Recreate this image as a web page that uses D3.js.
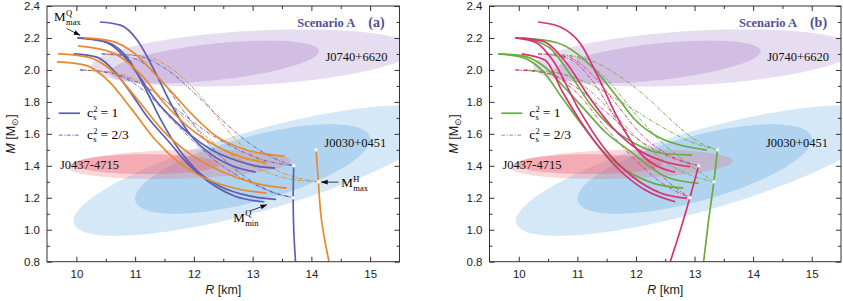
<!DOCTYPE html>
<html>
<head>
<meta charset="utf-8">
<script src="https://cdn.jsdelivr.net/npm/d3@7"></script>
<style>
body { margin: 0; background: #fff; }
svg text { font-family: "Liberation Sans", Arial, sans-serif; }
svg text.serif { font-family: "Liberation Serif", "Times New Roman", serif; }
</style>
</head>
<body>
<svg id="chart" width="843" height="301"></svg>
<script>
// axis ticks
var xTicks = [10, 11, 12, 13, 14, 15];
var xMinor = [10.5, 11.5, 12.5, 13.5, 14.5];
var yTicks = [0.8, 1.0, 1.2, 1.4, 1.6, 1.8, 2.0, 2.2, 2.4];
var yMinor = [0.9, 1.1, 1.3, 1.5, 1.7, 1.9, 2.1, 2.3];

// credible regions: [cx, cy, rx, ry, tilt] (outer, inner)
var regionJ0030 = [[13.1, 1.37, 3.15, 0.26, 0.1], [13.0, 1.38, 2.0, 0.21, 0.0925]];
var regionJ0740 = [[13.0, 2.075, 2.75, 0.17, 0.02], [12.35, 2.05, 1.78, 0.115, 0.038]];
var regionJ0437 = [[11.75, 1.41, 1.9, 0.09, 0.01], [11.2, 1.41, 1.25, 0.062, 0.0]];

// panel (a): quark branches [R, M]
var aBlueSolid = [
  [[10.40,2.30],[10.75,2.28],[11.05,2.18],[11.35,1.98],[11.65,1.76],[11.95,1.59],[12.30,1.47],[12.65,1.40],[13.05,1.36]],
  [[10.02,2.20],[10.45,2.18],[10.80,2.09],[11.05,1.97],[11.35,1.81],[11.65,1.69],[11.95,1.59],[12.30,1.50],[12.75,1.43],[13.05,1.40],[13.38,1.385]],
  [[9.95,2.10],[10.35,2.08],[10.65,1.99],[10.90,1.87],[11.20,1.71],[11.60,1.54],[11.90,1.41],[12.25,1.30],[12.70,1.21],[13.20,1.175]],
  [[10.02,2.20],[10.55,2.17],[10.90,2.06],[11.15,1.90],[11.45,1.68],[11.75,1.50],[12.05,1.37],[12.45,1.27],[12.96,1.21],[13.40,1.19]]
];
var aOrangeSolid = [
  [[10.12,2.20],[10.60,2.18],[11.00,2.10],[11.35,1.97],[11.65,1.85],[12.00,1.71],[12.40,1.58],[12.80,1.51],[13.20,1.475],[13.55,1.46]],
  [[10.03,2.15],[10.60,2.11],[11.10,1.97],[11.50,1.79],[11.95,1.63],[12.40,1.52],[12.85,1.45],[13.24,1.42]],
  [[9.69,2.10],[10.20,2.08],[10.65,1.98],[11.05,1.81],[11.45,1.63],[11.95,1.47],[12.50,1.36],[13.05,1.29],[13.58,1.26]],
  [[9.67,2.05],[10.15,2.03],[10.55,1.93],[10.95,1.75],[11.35,1.56],[11.75,1.42],[12.20,1.32],[12.75,1.255],[13.24,1.23]]
];
var aBlueDash = [
  [[10.43,2.10],[11.00,2.09],[11.55,2.00],[12.05,1.84],[12.50,1.68],[12.95,1.54],[13.35,1.45],[13.70,1.40]],
  [[10.06,2.00],[10.60,1.98],[11.15,1.87],[11.65,1.68],[12.15,1.50],[12.60,1.37],[13.05,1.28],[13.40,1.225],[13.70,1.20]],
  [[10.43,2.10],[11.00,2.07],[11.45,1.93],[11.85,1.73],[12.25,1.54],[12.70,1.38],[13.25,1.25],[13.70,1.20]],
  [[10.06,2.00],[10.60,1.98],[11.15,1.90],[11.65,1.77],[12.15,1.63],[12.65,1.52],[13.15,1.44],[13.70,1.40]]
];
var aOrangeDash = [
  [[10.50,2.10],[11.10,2.09],[11.65,2.00],[12.15,1.82],[12.60,1.61],[13.05,1.45],[13.55,1.35],[14.12,1.30]],
  [[10.10,2.00],[10.70,1.98],[11.30,1.87],[11.90,1.68],[12.50,1.50],[13.05,1.39],[13.60,1.32],[14.12,1.30]]
];
var aBlueHadron = [[13.73,0.80],[13.70,1.00],[13.69,1.20],[13.70,1.40]];
var aOrangeHadron = [[14.30,0.80],[14.22,0.95],[14.16,1.10],[14.12,1.30],[14.08,1.50]];
var aDots = [[13.70,1.40],[13.69,1.20],[14.08,1.50],[14.12,1.30]];

// panel (b)
var bMagentaSolid = [
  [[10.33,2.30],[10.70,2.27],[11.05,2.165],[11.35,1.96],[11.70,1.69],[12.02,1.50],[12.35,1.40],[12.67,1.36]],
  [[9.94,2.20],[10.30,2.17],[10.58,2.06],[11.03,1.75],[11.48,1.50],[11.95,1.33],[12.42,1.23],[12.87,1.196]],
  [[10.05,2.10],[10.45,2.06],[10.75,1.86],[11.05,1.68],[11.32,1.54],[11.70,1.38],[12.15,1.25],[12.67,1.175]],
  [[9.94,2.20],[10.40,2.18],[10.80,2.05],[11.20,1.83],[11.60,1.64],[12.00,1.51],[12.45,1.43],[12.93,1.394]]
];
var bGreenSolid = [
  [[10.05,2.20],[10.65,2.17],[11.30,2.00],[11.68,1.83],[11.98,1.69],[12.38,1.58],[12.75,1.53],[13.21,1.498]],
  [[10.05,2.20],[10.52,2.14],[10.90,1.96],[11.23,1.78],[11.58,1.64],[11.98,1.54],[12.42,1.48],[12.96,1.467]],
  [[9.65,2.10],[10.05,2.09],[10.44,2.02],[10.78,1.89],[11.13,1.75],[11.48,1.61],[11.87,1.50],[12.52,1.33],[13.07,1.29]],
  [[9.65,2.10],[10.05,2.08],[10.44,1.98],[10.73,1.83],[11.01,1.69],[11.28,1.56],[11.58,1.44],[11.93,1.35],[12.30,1.29],[12.81,1.26]]
];
var bMagentaDash = [
  [[10.33,2.10],[10.85,2.08],[11.28,1.96],[11.68,1.78],[12.08,1.60],[12.55,1.47],[13.07,1.40]],
  [[9.94,2.00],[10.48,1.98],[10.98,1.86],[11.48,1.64],[11.98,1.44],[12.45,1.29],[12.92,1.20]],
  [[10.33,2.10],[10.85,2.07],[11.28,1.92],[11.68,1.68],[12.08,1.48],[12.55,1.30],[12.92,1.20]],
  [[9.94,2.00],[10.48,1.98],[10.98,1.89],[11.48,1.74],[11.98,1.58],[12.55,1.46],[13.07,1.40]]
];
var bGreenDash = [
  [[10.45,2.10],[11.05,2.08],[11.55,2.00],[12.05,1.87],[12.30,1.79],[12.65,1.67],[13.02,1.56],[13.39,1.50]],
  [[10.10,2.00],[10.68,1.98],[11.18,1.88],[11.68,1.70],[12.18,1.52],[12.65,1.39],[13.02,1.33],[13.33,1.30]],
  [[10.45,2.10],[10.98,2.08],[11.48,1.95],[11.98,1.73],[12.46,1.54],[12.94,1.40],[13.33,1.30]],
  [[10.10,2.00],[10.68,1.98],[11.28,1.90],[11.88,1.77],[12.46,1.64],[12.94,1.55],[13.39,1.50]]
];
var bMagentaHadron = [[12.585,0.80],[12.76,1.00],[12.92,1.20],[13.07,1.40]];
var bGreenHadron = [[13.155,0.80],[13.24,1.06],[13.33,1.30],[13.39,1.50]];
var bDots = [[13.07,1.40],[12.92,1.20],[13.39,1.50],[13.33,1.30]];

(function () {
var blue = "#5c5fb0", orange = "#e8892b", green = "#6aac3e", magenta = "#d63373";

var panels = [
  { id: "a", left: 47, right: 399.5, tag: "(a)",
    dashFirst: [[aBlueDash, blue], [aOrangeDash, orange]],
    solids: [[aBlueSolid, blue], [aOrangeSolid, orange]],
    hadrons: [[aBlueHadron, blue], [aOrangeHadron, orange]],
    dots: aDots, legendColor: blue, notes: true },
  { id: "b", left: 489.5, right: 841, tag: "(b)",
    dashFirst: [[bGreenDash, green], [bMagentaDash, magenta]],
    solids: [[bGreenSolid, green], [bMagentaSolid, magenta]],
    hadrons: [[bMagentaHadron, magenta], [bGreenHadron, green]],
    dots: bDots, legendColor: green, notes: false }
];

var yTop = 6, yBottom = 261.7;
var svg = d3.select("#chart");

var defs = svg.append("defs");
defs.append("marker").attr("id", "arrow")
  .attr("viewBox", "0 0 10 10").attr("refX", 9).attr("refY", 5)
  .attr("markerWidth", 7).attr("markerHeight", 7).attr("orient", "auto")
  .attr("markerUnits", "userSpaceOnUse")
  .append("path").attr("d", "M0,1.5L10,5L0,8.5Z").attr("fill", "#111");

function ellipsePts(e) {
  return d3.range(0, 361, 3).map(function (a) {
    var t = a * Math.PI / 180;
    return [e[0] + e[2] * Math.cos(t), e[1] + e[3] * Math.sin(t) + e[4] * e[2] * Math.cos(t)];
  });
}

function mLabel(g, px, py, sup, sub) {
  var t = g.append("g").attr("transform", "translate(" + px + "," + py + ")");
  t.append("text").attr("class", "serif").attr("font-size", 13).text("M");
  t.append("text").attr("class", "serif").attr("x", 12).attr("y", -5.5).attr("font-size", 8.5).text(sup);
  t.append("text").attr("class", "serif").attr("x", 12).attr("y", 4).attr("font-size", 8.5).text(sub);
}

panels.forEach(function (p) {
  var x = d3.scaleLinear().domain([9.5, 15.5]).range([p.left, p.right]);
  var y = d3.scaleLinear().domain([0.8, 2.4]).range([yBottom, yTop]);
  var g = svg.append("g");

  defs.append("clipPath").attr("id", "clip-" + p.id)
    .append("rect").attr("x", p.left).attr("y", yTop)
    .attr("width", p.right - p.left).attr("height", yBottom - yTop);

  var plot = g.append("g").attr("clip-path", "url(#clip-" + p.id + ")");
  var area = d3.line().x(function (d) { return x(d[0]); }).y(function (d) { return y(d[1]); })
    .curve(d3.curveLinearClosed);

  // credible regions
  [[regionJ0030, "rgb(100,170,225)", [0.27, 0.33]],
   [regionJ0740, "rgb(160,120,195)", [0.25, 0.3]],
   [regionJ0437, "rgb(235,100,115)", [0.26, 0.38]]].forEach(function (r) {
    r[0].forEach(function (e, i) {
      plot.append("path").attr("d", area(ellipsePts(e)))
        .attr("fill", r[1]).attr("fill-opacity", r[2][i]);
    });
  });

  // region labels
  [["J0740+6620", 14.24, 2.054], ["J0030+0451", 14.22, 1.517], ["J0437-4715", 9.72, 1.38]]
    .forEach(function (l) {
      g.append("text").attr("class", "serif").attr("font-size", 12.5)
        .attr("x", x(l[1])).attr("y", y(l[2])).attr("fill", "#111").text(l[0]);
    });
  g.append("text").attr("class", "serif").attr("font-size", 12.5).attr("font-weight", "bold")
    .attr("fill", "#4e5099").attr("x", x(13.76)).attr("y", y(2.267)).text("Scenario A");
  g.append("text").attr("class", "serif").attr("font-size", 14).attr("font-weight", "bold")
    .attr("fill", "#4e5099").attr("x", x(14.97)).attr("y", y(2.267)).text(p.tag);

  var smooth = d3.line().x(function (d) { return x(d[0]); }).y(function (d) { return y(d[1]); })
    .curve(d3.curveMonotoneX);
  var vert = d3.line().x(function (d) { return x(d[0]); }).y(function (d) { return y(d[1]); })
    .curve(d3.curveCatmullRom.alpha(0.5));

  p.dashFirst.forEach(function (s) {
    s[0].forEach(function (c) {
      plot.append("path").attr("d", smooth(c)).attr("fill", "none")
        .attr("stroke", s[1]).attr("stroke-width", 0.9)
        .attr("stroke-dasharray", "4 1.5 1 1.5");
    });
  });
  p.solids.forEach(function (s) {
    s[0].forEach(function (c) {
      plot.append("path").attr("d", smooth(c)).attr("fill", "none")
        .attr("stroke", s[1]).attr("stroke-width", 1.7);
    });
  });
  p.hadrons.forEach(function (s) {
    plot.append("path").attr("d", vert(s[0])).attr("fill", "none")
      .attr("stroke", s[1]).attr("stroke-width", 1.7);
  });
  plot.selectAll(".dot").data(p.dots).enter().append("rect")
    .attr("x", function (d) { return x(d[0]) - 1.5; })
    .attr("y", function (d) { return y(d[1]) - 1.5; })
    .attr("width", 3).attr("height", 3).attr("fill", "#fff");

  // legend
  [[1.729, null, "1"], [1.592, "4 1.5 1 1.5", "2/3"]].forEach(function (l) {
    g.append("line").attr("x1", x(9.70)).attr("x2", x(10.06))
      .attr("y1", y(l[0])).attr("y2", y(l[0]))
      .attr("stroke", p.legendColor).attr("stroke-width", l[1] ? 0.9 : 1.7)
      .attr("stroke-dasharray", l[1]);
    var tx = x(10.18), ty = y(l[0]) + 4;
    g.append("text").attr("class", "serif").attr("font-size", 13.5).attr("x", tx).attr("y", ty).text("c");
    g.append("text").attr("class", "serif").attr("font-size", 8.5).attr("x", tx + 6.2).attr("y", ty - 5.5).text("2");
    g.append("text").attr("class", "serif").attr("font-size", 8.5).attr("x", tx + 6.2).attr("y", ty + 3).text("s");
    g.append("text").attr("class", "serif").attr("font-size", 13.5).attr("x", tx + 13.5).attr("y", ty).text("= " + l[2]);
  });

  if (p.notes) {
    mLabel(g, x(9.62), y(2.304), "Q", "max");
    g.append("line").attr("x1", x(9.835)).attr("y1", y(2.259)).attr("x2", x(10.06)).attr("y2", y(2.217))
      .attr("stroke", "#111").attr("stroke-width", 0.8).attr("marker-end", "url(#arrow)");
    mLabel(g, x(14.51), y(1.267), "H", "max");
    g.append("line").attr("x1", x(14.46)).attr("y1", y(1.298)).attr("x2", x(14.17)).attr("y2", y(1.298))
      .attr("stroke", "#111").attr("stroke-width", 0.8).attr("marker-end", "url(#arrow)");
    mLabel(g, x(12.67), y(1.05), "Q", "min");
    g.append("line").attr("x1", x(12.95)).attr("y1", y(1.117)).attr("x2", x(13.24)).attr("y2", y(1.156))
      .attr("stroke", "#111").attr("stroke-width", 0.8).attr("marker-end", "url(#arrow)");
  }

  // axes with inward ticks
  function styleAxis(a) {
    a.select(".domain").remove();
    a.selectAll("line").attr("stroke", "#333");
    a.selectAll("text").attr("font-size", 11.5).attr("fill", "#222")
      .attr("font-family", "'Liberation Sans', Arial, sans-serif");
  }
  var fmtX = d3.format("d"), fmtY = d3.format(".1f");
  styleAxis(g.append("g").attr("transform", "translate(0," + yBottom + ")")
    .call(d3.axisBottom(x).tickValues(xTicks).tickSizeInner(-5).tickSizeOuter(0).tickPadding(8).tickFormat(fmtX)));
  styleAxis(g.append("g").attr("transform", "translate(0," + yBottom + ")")
    .call(d3.axisBottom(x).tickValues(xMinor).tickSizeInner(-3).tickSizeOuter(0).tickFormat("")));
  styleAxis(g.append("g").attr("transform", "translate(0," + yTop + ")")
    .call(d3.axisTop(x).tickValues(xTicks).tickSizeInner(-5).tickSizeOuter(0).tickFormat("")));
  styleAxis(g.append("g").attr("transform", "translate(0," + yTop + ")")
    .call(d3.axisTop(x).tickValues(xMinor).tickSizeInner(-3).tickSizeOuter(0).tickFormat("")));
  styleAxis(g.append("g").attr("transform", "translate(" + p.left + ",0)")
    .call(d3.axisLeft(y).tickValues(yTicks).tickSizeInner(-5).tickSizeOuter(0).tickPadding(7).tickFormat(fmtY)));
  styleAxis(g.append("g").attr("transform", "translate(" + p.left + ",0)")
    .call(d3.axisLeft(y).tickValues(yMinor).tickSizeInner(-3).tickSizeOuter(0).tickFormat("")));
  styleAxis(g.append("g").attr("transform", "translate(" + p.right + ",0)")
    .call(d3.axisRight(y).tickValues(yTicks).tickSizeInner(-5).tickSizeOuter(0).tickFormat("")));
  styleAxis(g.append("g").attr("transform", "translate(" + p.right + ",0)")
    .call(d3.axisRight(y).tickValues(yMinor).tickSizeInner(-3).tickSizeOuter(0).tickFormat("")));

  g.append("rect").attr("x", p.left).attr("y", yTop)
    .attr("width", p.right - p.left).attr("height", yBottom - yTop)
    .attr("fill", "none").attr("stroke", "#333").attr("stroke-width", 1);

  // axis titles
  var xt = g.append("text").attr("x", (p.left + p.right) / 2).attr("y", 294)
    .attr("text-anchor", "middle").attr("font-size", 12.5).attr("fill", "#222");
  xt.append("tspan").attr("font-style", "italic").text("R");
  xt.append("tspan").text(" [km]");
  var yt = g.append("text").attr("transform", "translate(" + (p.left - 32) + "," + 134 + ") rotate(-90)")
    .attr("text-anchor", "middle").attr("font-size", 12.5).attr("fill", "#222");
  yt.append("tspan").attr("font-style", "italic").text("M");
  yt.append("tspan").text(" [M");
  yt.append("tspan").attr("font-size", 9).attr("dy", 3).text("\u2299");
  yt.append("tspan").attr("dy", -3).text("]");
});
})();
</script>
</body>
</html>
